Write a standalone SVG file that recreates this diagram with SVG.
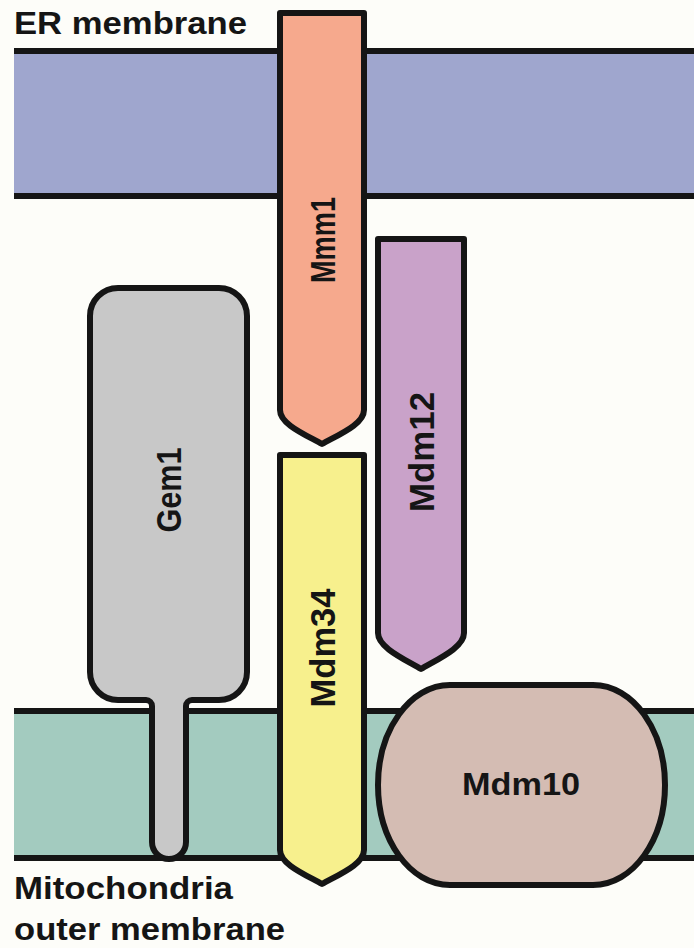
<svg xmlns="http://www.w3.org/2000/svg" width="694" height="948" viewBox="0 0 694 948">
<style>
.t{font-family:"Liberation Sans",Arial,Helvetica,sans-serif;font-weight:bold;font-size:32px;fill:#151515}
.vt{font-family:"Liberation Sans",Arial,Helvetica,sans-serif;font-weight:bold;font-size:31px;fill:#151515;text-anchor:middle}
.edge{stroke:#151515;stroke-width:6;fill:none}
.p{stroke:#151515;stroke-width:6;stroke-linejoin:round}
</style>
<rect width="694" height="948" fill="#fdfdf9"/>
<g id="er-membrane">
<rect x="14" y="51" width="680" height="145" fill="#9fa6ce"/>
<line class="edge" x1="14" y1="51" x2="694" y2="51"/>
<line class="edge" x1="14" y1="196" x2="694" y2="196"/>
<text class="t" x="14" y="34" textLength="233" lengthAdjust="spacingAndGlyphs">ER membrane</text>
</g>
<g id="mito-membrane">
<rect x="14" y="711" width="680" height="147" fill="#a3cbbf"/>
<line class="edge" x1="14" y1="711" x2="694" y2="711"/>
<line class="edge" x1="14" y1="858" x2="694" y2="858"/>
<text class="t" x="14" y="899" textLength="219" lengthAdjust="spacingAndGlyphs">Mitochondria</text>
<text class="t" x="14" y="940" textLength="271" lengthAdjust="spacingAndGlyphs">outer membrane</text>
</g>
<g id="connectors"></g>
<g id="gem1">
<path class="p" fill="#c8c8c8" d="M118,288 H219 A28,28 0 0 1 247,316 V672 A28,28 0 0 1 219,700 H192 A6,6 0 0 0 186,706 V842 A17,17 0 0 1 152,842 V706 A6,6 0 0 0 146,700 H118 A28,28 0 0 1 90,672 V316 A28,28 0 0 1 118,288 Z"/>
<text class="vt" transform="translate(168,490) scale(1.16,1) rotate(-90)" y="11" textLength="85" lengthAdjust="spacingAndGlyphs">Gem1</text>
</g>
<g id="mmm1">
<path class="p" fill="#f6a98d" d="M280,13 H364 V410 C364,424 340,434 322,444 C304,434 280,424 280,410 Z"/>
<text class="vt" transform="translate(322,240) scale(1.16,1) rotate(-90)" y="11" textLength="86" lengthAdjust="spacingAndGlyphs">Mmm1</text>
</g>
<g id="mdm12">
<path class="p" fill="#c9a2c9" d="M378,239 H464 V633 C464,647 440,658 421,669 C402,658 378,647 378,633 Z"/>
<text class="vt" transform="translate(421,452) scale(1.16,1) rotate(-90)" y="11" textLength="120" lengthAdjust="spacingAndGlyphs">Mdm12</text>
</g>
<g id="mdm34">
<path class="p" fill="#f7f08d" d="M280,455 H364 V850 C364,864 340,874 322,884 C304,874 280,864 280,850 Z"/>
<text class="vt" transform="translate(322,648) scale(1.16,1) rotate(-90)" y="11" textLength="119" lengthAdjust="spacingAndGlyphs">Mdm34</text>
</g>
<g id="mdm10">
<path class="p" fill="#d4bcb3" d="M450,685 H593 C633,685 665,730 665,785 C665,840 633,885 593,885 H450 C410,885 378,840 378,785 C378,730 410,685 450,685 Z"/>
<text class="t" x="462" y="795" textLength="118" lengthAdjust="spacingAndGlyphs">Mdm10</text>
</g>
</svg>
